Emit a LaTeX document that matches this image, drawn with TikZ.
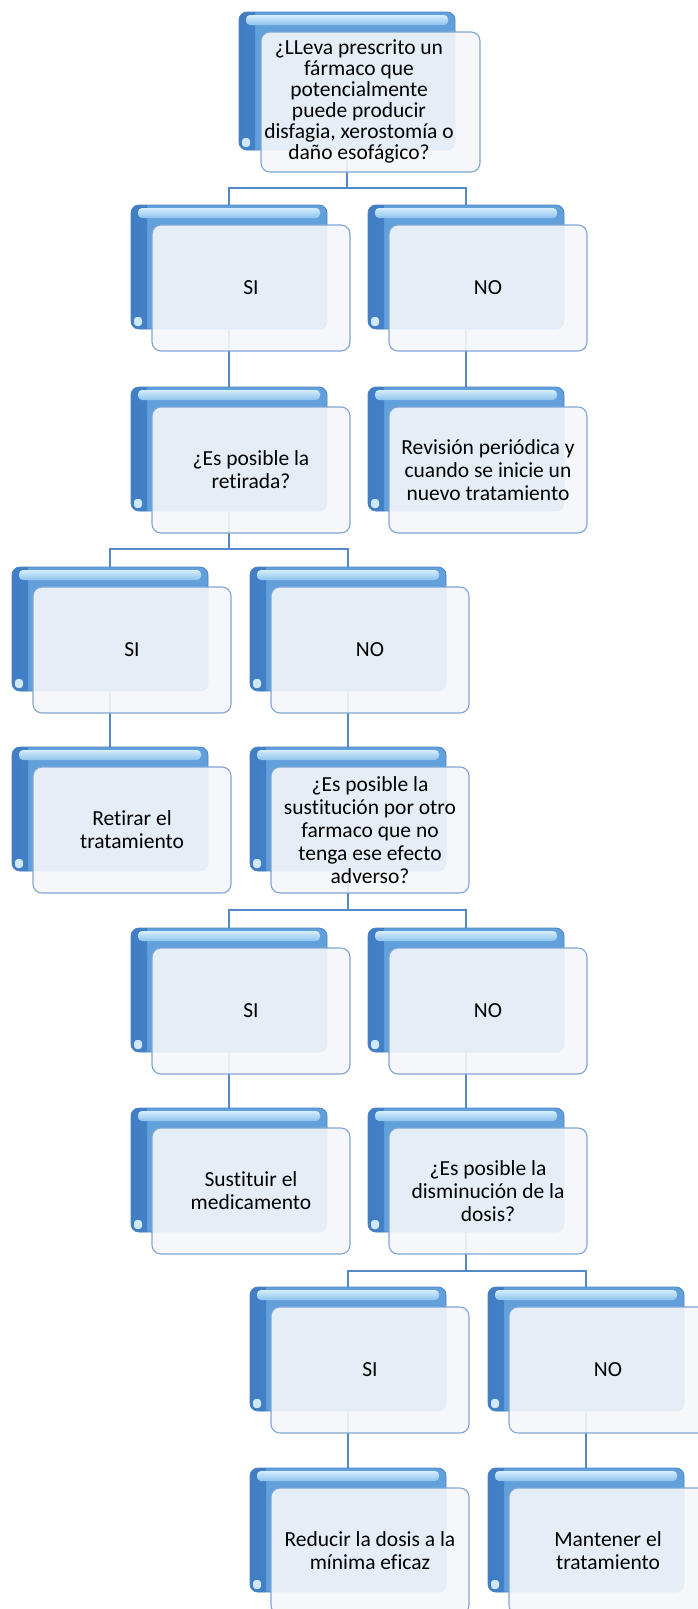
\documentclass[tikz,border=0pt]{standalone}
\usepackage{fontspec}
\setmainfont{Carlito}[Ligatures=NoCommon]
\usetikzlibrary{backgrounds}

\definecolor{linkblue}{HTML}{5489C7}
\definecolor{bbedge}{HTML}{4A84C4}
\definecolor{bbmid}{HTML}{62A0DC}
\definecolor{bbdark}{HTML}{407DC4}
\definecolor{hltop}{HTML}{D4EDFB}
\definecolor{hlbot}{HTML}{8EC3EE}
\definecolor{glint}{HTML}{CFE8FA}
\definecolor{fbfill}{HTML}{F4F7FB}
\definecolor{fbedge}{HTML}{7FA6D3}

\newcommand\boxfont{\fontsize{21.5}{23}\selectfont}
\newcommand\topfont{\fontsize{21.5}{21}\selectfont}

\tikzset{
  backbox/.style={draw=bbedge, line width=0.8pt, fill=bbmid, rounded corners=8pt,
    minimum width=196pt, minimum height=124pt, inner sep=0pt,
    path picture={
      \shade[sharp corners, left color=bbdark, right color=bbmid]
        (path picture bounding box.north west) rectangle
        ([xshift=16pt]path picture bounding box.south west);
      \shade[rounded corners=4pt, top color=hltop, bottom color=hlbot]
        ([xshift=7pt,yshift=-3pt]path picture bounding box.north west) rectangle
        ([xshift=-7pt,yshift=-13pt]path picture bounding box.north east);
      \fill[rounded corners=3pt, glint]
        ([xshift=3pt,yshift=3pt]path picture bounding box.south west) rectangle
        ([xshift=11pt,yshift=12pt]path picture bounding box.south west);
    }},
  frontbox/.style={draw=fbedge, line width=1.1pt, fill=fbfill, fill opacity=0.9,
    text opacity=1, rounded corners=9pt, minimum width=198pt, minimum height=126pt,
    inner sep=0pt, align=center, font=\boxfont, text=black},
  qtext/.style={align=center, font=\topfont, text=black, inner sep=0pt},
  link/.style={draw=linkblue, line width=2pt},
  stem/.style={draw=linkblue, line width=2.8pt}
}

% one decision/answer box: blue back plate with a light card in front
\newcommand\flowitem[4]{%
  \node[backbox] (b#1) at (#2+98,#3+62) {};
  \node[frontbox] (f#1) at (#2+120,#3+83) {#4};}

\begin{document}
\begin{tikzpicture}[x=1pt,y=-1pt]
\useasboundingbox (0,0) rectangle (698,1609);

% root question
\node[backbox, minimum width=216pt, minimum height=138pt] (b1) at (347,81) {};
\node[frontbox, minimum width=219pt, minimum height=140pt] (f1) at (370.5,102) {};
\node[qtext] (t1) at (359,101) {¿LLeva prescrito un\\fármaco que\\potencialmente\\puede producir\\disfagia, xerostomía o\\daño esofágico?};

\flowitem{2a}{131}{205}{SI}
\flowitem{2b}{368}{205}{NO}
\flowitem{3a}{131}{387}{¿Es posible la\\retirada?}
\flowitem{3b}{368}{387}{Revisión periódica y\\cuando se inicie un\\nuevo tratamiento}
\flowitem{4a}{12}{567}{SI}
\flowitem{4b}{250}{567}{NO}
\flowitem{5a}{12}{747}{Retirar el\\tratamiento}
\flowitem{5b}{250}{747}{¿Es posible la\\sustitución por otro\\farmaco que no\\tenga ese efecto\\adverso?}
\flowitem{6a}{131}{928}{SI}
\flowitem{6b}{368}{928}{NO}
\flowitem{7a}{131}{1108}{Sustituir el\\medicamento}
\flowitem{7b}{368}{1108}{¿Es posible la\\disminución de la\\dosis?}
\flowitem{8a}{250}{1287}{SI}
\flowitem{8b}{488}{1287}{NO}
\flowitem{9a}{250}{1468}{Reducir la dosis a la\\mínima eficaz}
\flowitem{9b}{488}{1468}{Mantener el\\tratamiento}

% branch rails
\coordinate (j1) at (0,188);
\coordinate (j3) at (0,549);
\coordinate (j5) at (0,910);
\coordinate (j7) at (0,1271);

\begin{scope}[on background layer]
  \fill[white] (0,0) rectangle (698,1609);
  % branching connectors
  \draw[stem] (b1.south) -- (b1.south |- j1);
  \draw[link] (b1.south |- j1) -| (b2a.north);
  \draw[link] (b1.south |- j1) -| (b2b.north);
  \draw[stem] (b3a.south) -- (b3a.south |- j3);
  \draw[link] (b3a.south |- j3) -| (b4a.north);
  \draw[link] (b3a.south |- j3) -| (b4b.north);
  \draw[stem] (b5b.south) -- (b5b.south |- j5);
  \draw[link] (b5b.south |- j5) -| (b6a.north);
  \draw[link] (b5b.south |- j5) -| (b6b.north);
  \draw[stem] (b7b.south) -- (b7b.south |- j7);
  \draw[link] (b7b.south |- j7) -| (b8a.north);
  \draw[link] (b7b.south |- j7) -| (b8b.north);
  % straight connectors
  \draw[link] (b2a.south) -- (b3a.north);
  \draw[link] (b2b.south) -- (b3b.north);
  \draw[link] (b4a.south) -- (b5a.north);
  \draw[link] (b4b.south) -- (b5b.north);
  \draw[link] (b6a.south) -- (b7a.north);
  \draw[link] (b6b.south) -- (b7b.north);
  \draw[link] (b8a.south) -- (b9a.north);
  \draw[link] (b8b.south) -- (b9b.north);
\end{scope}
\end{tikzpicture}
\end{document}
